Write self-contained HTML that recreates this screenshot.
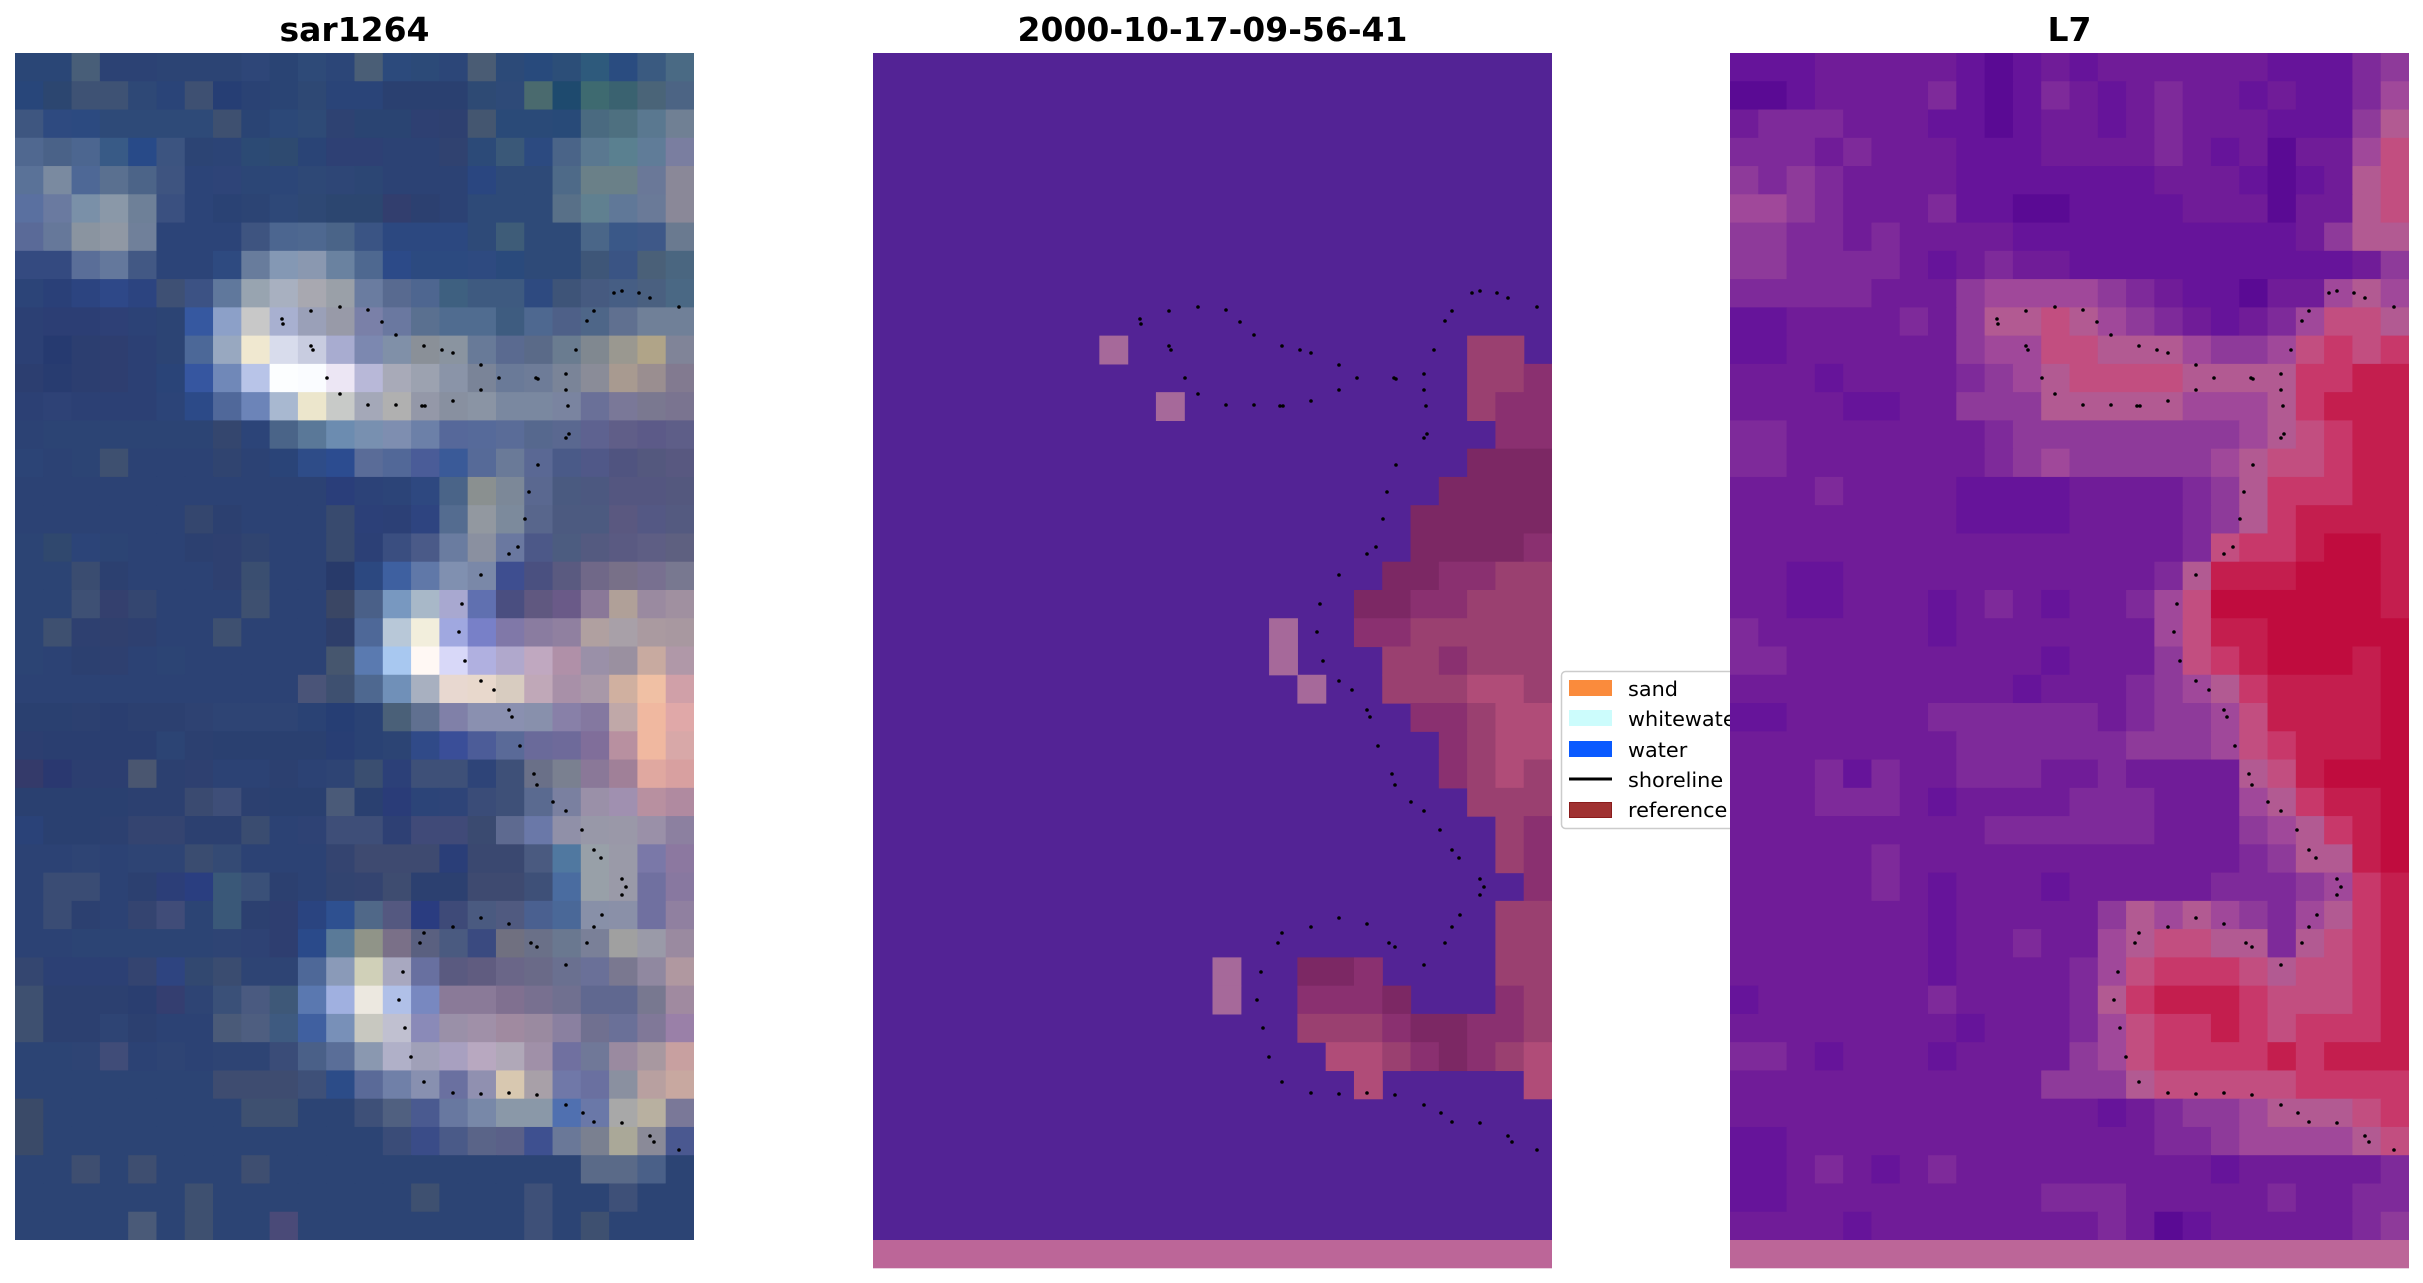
<!DOCTYPE html>
<html><head><meta charset="utf-8">
<style>
html,body{margin:0;padding:0;background:#fff;}
svg{display:block;}
text{font-family:"DejaVu Sans","Liberation Sans",sans-serif;}
</style></head><body>
<svg id="s" xmlns="http://www.w3.org/2000/svg" width="2423" height="1283" viewBox="0 0 2423 1283">
<rect width="2423" height="1283" fill="#ffffff"/>
<text x="354.5" y="41" font-size="33" font-weight="bold" text-anchor="middle" fill="#000">sar1264</text>
<text x="1212.5" y="41" font-size="33" font-weight="bold" text-anchor="middle" fill="#000">2000-10-17-09-56-41</text>
<text x="2069.5" y="41" font-size="33" font-weight="bold" text-anchor="middle" fill="#000">L7</text>

<g id="legend">
<rect x="1561.5" y="671.5" width="330" height="157" rx="4" fill="#ffffff" stroke="#cccccc" stroke-width="1.5"/>
<rect x="1569" y="680" width="43" height="16" fill="#fa8b3c"/>
<rect x="1569" y="710" width="43" height="16" fill="#ccfcfc"/>
<rect x="1569" y="741" width="43" height="16" fill="#0a5aff"/>
<line x1="1569" y1="779" x2="1612" y2="779" stroke="#000" stroke-width="3"/>
<rect x="1569.5" y="802.5" width="42" height="15" fill="#a03232" stroke="#8a1c1c" stroke-width="1"/>
<text x="1628" y="696" font-size="20.8" fill="#000">sand</text>
<text x="1628" y="726" font-size="20.8" fill="#000">whitewater</text>
<text x="1628" y="757" font-size="20.8" fill="#000">water</text>
<text x="1628" y="787" font-size="20.8" fill="#000">shoreline</text>
<text x="1628" y="817" font-size="20.8" fill="#000">reference</text>
</g>

<rect x="15" y="53" width="679" height="1187" fill="#2c4474"/>
<g id="L"></g>

<rect x="873" y="53" width="679" height="1187" fill="#532395"/>
<rect x="873" y="1240" width="679" height="28.3" fill="#bc6698"/>
<g id="M"></g>

<rect x="1730" y="53" width="679" height="1187" fill="#701c98"/>
<rect x="1730" y="1240" width="679" height="28.3" fill="#bc6698"/>
<g id="R"></g>

<g id="D"></g>
</svg>
<script>
(function(){
var NS="http://www.w3.org/2000/svg";
var CW=679/24, CH=1187/42;
function mk(g,x,y,w,h,f){
  var el=document.createElementNS(NS,'rect');
  el.setAttribute('x',x.toFixed(2));
  el.setAttribute('y',y.toFixed(2));
  el.setAttribute('width',w.toFixed(2));
  el.setAttribute('height',h.toFixed(2));
  el.setAttribute('fill',f);
  g.appendChild(el);
}
function grid(id,x0,y0,rows,pal){
  var g=document.getElementById(id);
  for(var r=0;r<rows.length;r++){
    var s=rows[r], c=0;
    while(c<s.length){
      var k=s.charAt(c), e=c;
      while(e+1<s.length && s.charAt(e+1)==k) e++;
      if(pal[k]){
        var w=(e-c+1)*CW+(e==s.length-1?0:0.6);
        var h=CH+(r==41?0:0.6);
        mk(g,x0+c*CW,y0+r*CH,w,h,pal[k]);
      }
      c=e+1;
    }
  }
}
function hexgrid(id,x0,y0,rows){
  var g=document.getElementById(id);
  for(var r=0;r<rows.length;r++){
    var a=rows[r].split(' ');
    for(var c=0;c<a.length;c++){
      var w=CW+(c==a.length-1?0:0.6);
      var h=CH+(r==rows.length-1?0:0.6);
      mk(g,x0+c*CW,y0+r*CH,w,h,'#'+a[c]);
    }
  }
}
var LH=[
"2a4676 2a4676 485e78 2c4274 2c4274 2c4474 2c4474 2c4474 2e4678 2a4474 2e4a78 2c4678 4a5e76 2c4a7c 2c4a78 2c4678 4a5c74 2c4a78 284a7c 2c4e78 2e5a7c 2a4c80 3a5a80 4a6a84",
"28467a 2c4670 3e5274 3e5274 2e4876 2a4478 3e5072 263e74 2a4274 2a4474 2e4874 2a4478 2a4478 2a4070 2a4070 2a4070 2e4a74 2e4a78 4a6a6e 1e4a6e 3e6a70 3a6270 4a6478 4c6484",
"3e5680 2e4a80 2c4a80 2e4a78 2e4a78 2e4a78 2e4a78 3e5070 2a4474 2c4878 2e4a76 2e4272 2a4472 2a4472 2e4072 2e4070 445670 2a4a78 2a4a78 284a78 4a6a80 4e7080 5a7890 708094",
"506890 4a6288 4c6690 385a86 284a88 3c5480 2c4474 2c4476 2c4a74 2e4a70 2a4476 2e4074 2e4074 2c4274 2c4274 304270 2c4a78 3a5878 2c4a80 4a6488 5a7890 5a8090 607c98 7a7ea0",
"5a7298 7a8aa0 4e6896 5a7090 4c6488 3e5480 2c4478 2e4478 2c4676 2c4678 2e4876 2e4676 2c4674 2c4274 2c4274 2c4274 2a4680 2e4a78 2e4a78 4e6a88 6a8088 6a8088 6a7898 8a8898",
"5a70a0 6a7aa0 7a90a8 8a98a8 6e8098 3a5080 2c4478 2a4274 2c4474 2e4878 2e4874 2c4670 2c4670 323e6e 2c4070 2c4274 2e4a78 2e4a78 2e4a78 587088 608090 607898 6a7a98 8a8898",
"5a6a98 66789a 8a94a0 9098a4 70809a 2c4478 2c4478 2c4478 3e5480 4c6690 4e6890 4a6488 3a5484 2c4880 2c4880 2c4880 2e4a78 3e5c78 2e4a78 2e4a78 4a6688 3a5888 3e5888 6a7a90",
"344a80 344a80 5a6e98 64789c 425884 2c4478 2c4478 2e4a80 687c9c 8498b4 8a98b0 6a82a0 4e6890 2c4a88 2c4a80 2c4a80 2e4a80 2a4a7c 2e4a78 2e4a78 3e5678 3a5484 4a6078 4a6680",
"2c4478 2a4078 2c4480 2e4888 2c4480 3e5074 3c5284 60789c 98a4b0 a8b0c0 a8a8b0 9aa0a8 6a7ca0 586a90 4e6690 3e6080 3e5a80 3e5a80 2e4a80 3e5478 465a80 465e84 4a6080 4a6884",
"2c4074 2c3e74 2c3e74 2e4076 2c4276 2c4474 3658a0 8ca0c8 c8c8c8 a8b0d0 9aa0b8 989aa8 7a80a8 6a78a0 5a7090 506c90 506c90 3e5c80 4e6890 4e6088 4e6688 607090 708098 708098",
"2c4074 263a70 2c3e70 2e3e70 2c4074 2c4474 4c6898 98a8c0 f0e8d0 d8dcec c8cce0 a8acd0 7c88b0 8090a8 8a9098 8a94a0 687a98 5a6a90 5a6a88 6a7c90 808890 9a9890 b0a488 808498",
"2c3e70 283c70 2c3e70 2e3e70 2c4074 2a4478 3656a0 7088b8 b8c4e8 fcfeff fafcff ece6f4 b8b8d8 a8aab8 9ca2b0 8a94a8 7a8498 6a7a98 6e7c98 7a8498 8a8c98 a89a90 9a8e90 827a90",
"2c4074 2e4276 2c4074 2c4074 2c4074 2c4478 2c4a88 50689a 6c84b8 a8b8d0 ece6cc c8cac8 a4a8b8 b0b0b0 9498a8 8890a0 8a94a4 7a88a0 7a88a0 7a84a0 6a7098 7a7898 7a7890 7a7490",
"2c4274 2c4474 2c4474 2c4474 2c4474 2c4474 2c4474 34466e 2c4478 4a6488 5a7898 6c8cb0 7890b0 7e8eb0 6c80a8 56689a 566a9a 5a6c98 56688e 5a6890 5e6290 605e88 5c5a88 5e5e88",
"2c4476 2c4274 2c4474 3e5070 2c4274 2c4274 2c4274 304470 2c4274 2a4478 2e4c88 2c4c90 5a6c98 526898 4a5c98 3a5a98 566a98 6a7a98 5a6894 4a5a88 505888 505480 54587e 585880",
"2c4274 2c4274 2c4274 2c4274 2c4274 2c4274 2c4274 2c4274 2c4274 2c4274 2c4274 2a3e7a 2c4278 2c4478 2e4880 4a6488 8a9090 7c8898 5a6890 4a5a80 4c5880 545680 545680 54587e",
"2c4274 2c4274 2c4274 2c4274 2c4274 2c4274 34466e 2c4070 2c4274 2c4274 2c4274 384a6e 2c4078 2c4076 2e4480 546c90 9298a0 7c8a9c 58668c 4c5a80 4c5a80 5a5880 545884 545a80",
"2c4474 30486e 2c4478 2c4474 2c4274 2c4274 2c4070 2e4070 304470 2c4274 2c4274 384a6e 2c4076 3a4e80 4a5a88 6a7ca0 8a90a0 6a78a0 4c5888 4c5c80 545a80 5a5a82 5e5e84 5e6080",
"2c4474 2c4474 3a4c70 2c4070 2c4274 2c4274 2c4274 2e4070 3a4e70 2c4274 2c4274 283a6a 2c4880 3e60a0 6078a8 8090b0 7a88a8 3e4e90 4a5080 5a5a80 706888 787088 787090 787890",
"2c4474 2c4474 3e5074 34406e 344670 2c4274 2c4274 2c4274 3e5070 2c4274 2c4274 3a4664 4a6088 7898c0 a8b8c8 a8a8d0 6070b0 4a4e80 605880 6a5a88 8a7898 b0a098 9a8aa0 a090a0",
"2c4474 3e5070 2e4070 30406e 2e4070 2c4274 2c4274 3e5070 2c4274 2c4274 2c4274 2e3e6a 4e6898 b8c8d8 f2eedc a0a8e0 7880c8 8078a8 8a7ca0 9080a0 b0a0a0 a8a0a8 aa9aa0 a898a0",
"2c4474 2c4274 2c4070 2e4070 2c4274 2c4474 2c4274 2c4274 2c4274 2c4274 2c4274 46566e 5a7ab0 a8c8f0 fff8f4 d8d8f8 b0b0e0 b0a8cc c0a8c0 b090a8 9a90a8 9a90a0 c8aaa0 b098a8",
"2c4274 2c4274 2c4274 2c4274 2c4274 2c4274 2c4274 2c4274 2c4274 2c4274 4a5478 3e5070 4e6890 7090b8 a8b0c0 e8d8d0 e8d8cc d8ccc0 c0a8b8 a890a8 a898a8 d0b0a0 f0c0a4 d0a0a8",
"2a4070 2a4070 2c4070 2a3e70 2c4070 2c4070 2e4272 2e4474 2e4474 2e4474 2a4274 263e74 2a4274 4a6078 607090 8080a8 8a90b0 8a90b0 8890ac 8880a8 8478a0 c0a8a8 f0b8a0 e0a8a8",
"2c3e70 2a3e70 2a3e70 2a3e70 2a3e70 2c4474 2c4070 2a4070 2a4070 2a4070 2a4070 283e74 2a4274 2c4474 304a88 3a4e98 4c5c98 5a6a98 6a6a9a 6e6a9a 806e9a b890a0 f0b8a0 d8a8a8",
"343a6a 2a3870 2c3e70 2c3e70 4a5670 2c4070 2e4070 2c4274 2c4274 2c4070 2c4274 2e4474 3a4e70 2c4078 3e5078 3e5078 2e4478 3e5078 6a7088 7a8090 8a7898 a08098 e0a8a0 d8a0a0",
"2a4070 2a4070 2a4070 2a4070 2c4070 2c4070 3a4a70 3e4e78 2c4070 2a4070 2a4070 4a5a78 2a4070 2a3c78 2c4478 2e4478 3a4c78 3e5078 5a6a90 7a80a0 9a90a8 a090b0 b890a0 b08aa0",
"2a4278 2a4070 2a4070 2c4070 344470 344470 2c4070 2c4070 3a4c70 2c4274 2e4274 3e4e78 3e4e78 2e4074 404a78 404a78 3a4a70 5e6a90 6a78a8 9090a8 9898a8 9a98a8 9a90a8 8c80a0",
"2c4274 2c4274 2e4474 2c4274 2e4474 2e4474 3a4c70 344a74 2c4274 2c4274 2c4274 344470 3e4a70 3e4a70 3e4a70 2a3e78 3a4870 3a4870 4a5a80 5078a0 98a0a8 9a9aa8 7a78a8 8c78a0",
"2c4274 3a4c74 3a4c74 2c4274 2c4070 2c3e78 2a3e80 3a5878 3a5078 2c4070 2c4274 324470 344470 3e4c70 2c4070 2c4070 3e4a70 3e4a70 3e5078 4a6ca0 98a0a8 9a9aa8 7070a0 8878a0",
"2c4274 3a4c74 2c4070 2c4274 344470 404c78 2c4474 3a5878 2c4070 2e3e70 2a4480 2e5090 506888 545880 2a3c80 3e4a78 4a5a80 505a80 4a6090 4a6898 8890a8 8a90a8 7070a0 9080a0",
"2c4274 2c4274 2c4474 2c4474 2c4474 2c4474 2c4474 2e4474 2e4274 2e3e70 2a4a8a 5a7a98 909488 7a7088 5a6080 4a5a80 3a4a80 707080 6a7088 6a7890 7a8098 a0a0a0 9a9aa8 9a8aa0",
"344670 2c4074 2c4074 2c4074 344470 2e4480 324870 3a4c70 2e4474 2e4474 4e6898 8a9ab8 d0d0b8 a8a8c0 6870a0 5a5a80 605c80 6a6688 6a6a88 6a7090 6a7098 7a7890 9088a0 b098a0",
"3e5070 2c4070 2c4070 2c4070 2a3e70 343e70 2e4474 3a5078 4a5a80 3e5878 5a78b0 a0b0e0 ece8e0 b0c0e8 7888c0 8a7a98 8a7a98 807090 787090 707090 606890 606890 787890 a08aa0",
"3e5070 2c4070 2c4070 2e4474 2c4070 2c4274 2c4274 4a5a78 4e5e80 3e5a80 4060a0 7890b8 c8c8c0 c0c0d0 8a8ab8 9a90a8 a090a8 a08aa0 9a8aa0 8a80a0 707090 6a7098 807898 9a80a8",
"2c4474 2c4474 2e4474 404c78 2c4274 2e4474 2c4274 2e4474 2e4474 3a4c78 4a6088 5a6e98 8a98b0 b0b0c8 a0a0b8 a8a0c0 b8a8c0 b0a8b8 a090a8 7070a0 707898 9a8aa0 a898a0 c8a0a0",
"2c4474 2c4474 2c4474 2c4474 2c4474 2c4474 2c4474 3e4c70 3e4c70 3e4c70 3e5078 2c4c88 5a6a98 7080a8 8890b0 6a70a0 9090b0 d8c8b0 a8a0a8 7078a8 6a70a0 8a90a0 b8a0a0 c8a8a0",
"3a4a68 2c4474 2c4474 2c4474 2c4474 2c4474 2c4474 2c4474 3e5070 3e5070 2c4474 2c4474 3e5078 506080 4a5a90 6878a0 7888a8 8a98a8 8a98a8 5070b0 6a78a8 a8a8a8 b8b0a0 7a7898",
"3a4a68 2c4474 2c4474 2c4474 2c4474 2c4474 2c4474 2c4474 2c4474 2c4474 2c4474 2c4474 2c4474 3a4c78 3a4c88 4a5a88 5a6488 5a6088 3e5090 6a7898 7a8090 aaa898 8a8a98 4a5890",
"2c4474 2c4474 3e4e70 2c4474 3e4e70 2c4474 2c4474 2c4474 3e4e70 2c4474 2c4474 2c4474 2c4474 2c4474 2c4474 2c4474 2c4474 2c4474 2c4474 2c4474 5a6a88 5a6a88 4a6088 2c4474",
"2c4474 2c4474 2c4474 2c4474 2c4474 2c4474 3e5070 2c4474 2c4474 2c4474 2c4474 2c4474 2c4474 2c4474 3e5070 2c4474 2c4474 2c4474 3e5078 2c4474 2c4474 3e5078 2c4474 2c4474",
"2c4474 2c4474 2c4474 2c4474 4a5a78 2c4474 3e5070 2c4474 2c4474 4a4a78 2c4474 2c4474 2c4474 2c4474 2c4474 2c4474 2c4474 2c4474 3e5078 2c4474 3e5070 2c4474 2c4474 2c4474"];
var RP={a:'#5a0a94',b:'#66149a',c:'#701c98',d:'#7e2a9a',e:'#8e3a9a',f:'#a0489a',g:'#b25a92',h:'#c24e80',i:'#c8386a',j:'#c41e4e',k:'#c00c3e'};
var RR=[
"bbbcccccbabcbccccccbbbde",
"aabccccdbabdcbcdccbcbbdf",
"cdddcccbbabccbcdcccbbbeg",
"dddcdcccbbbccccdcbcaccfh",
"ededccccbbbbbbbcccbabcgh",
"ffedcccdbbaabbbbcccaccgh",
"eeddcdccccbbbbbbbbbbcegg",
"eeddddcbcdccbbbbbbbbbbce",
"dddddccceffffedcbbaccfgf",
"bbccccdcegghgfedcbcdfhhg",
"bbcccccceffhhgggfeefhihi",
"cccbccccdefghhhhggggiijj",
"ccccbbcceeegggggfffgijjj",
"ddcccccccdeeeeeeeefghijj",
"ddcccccccdefeeeeefghhijj",
"cccdccccbbbbccccdegiiijj",
"ccccccccbbbbccccdegijjjj",
"ccccccccccccccccdhiijkkj",
"ccbbcccccccccccdgjjjkkkj",
"ccbbcccbcdcbccdfhkkkkkkj",
"dccccccbcccccccfhjjkkkkk",
"ddcccccccccbcccehijkkkjk",
"ccccccccccbcccdefgijjjjk",
"bbcccccddddddcdeefhjjjjk",
"ccccccccddddddeeefhijjjk",
"cccdbdccdddccdccccghjkkk",
"cccdddcbccccdddcccfgijjk",
"cccccccccddddddcccefgijk",
"cccccdccccccccccccdeggjk",
"cccccdcbcccbcccccdddefij",
"cccccccbcccccegfgfedfgij",
"cccccccbccdccfghhggdghij",
"cccccccbccccdfhiiihghhij",
"bccccccdccccdgijjjihhhij",
"ccccccccbcccdfhiijihiiij",
"ddcbcccbccccefhiiiijijjj",
"ccccccccccceeeghhhhhiiii",
"cccccccccccccbcdeefggghi",
"bbcccccccccccccddeffffgh",
"bbcdcbcdcccccccccbcccccd",
"bbcccccccccdddcccccdccdd",
"ccccbccccccccdcabcccccde"];
var MP={L:'#a6699a',p:'#9a4070',q:'#8a3070',r:'#7c2864',s:'#b04c78'};
var MR=[
"........................",
"........................",
"........................",
"........................",
"........................",
"........................",
"........................",
"........................",
"........................",
"........................",
"........L............pp.",
".....................ppq",
"..........L..........pqq",
"......................qq",
".....................rrr",
"....................rrrr",
"...................rrrrr",
"...................rrrrq",
"..................rrqqpp",
".................rrqqppp",
"..............L..qqppppp",
"..............L...ppqppp",
"...............L..pppssp",
"...................qqpss",
"....................qpss",
"....................qpsp",
".....................ppp",
"......................pq",
"......................pq",
".......................q",
"......................pp",
"......................pp",
"............L..rrq....pp",
"............L..qqqr...qp",
"...............pppqrrqqp",
"................sspqrqps",
".................s.....s"];
hexgrid('L',15,53,LH);
grid('M',873,53,MR,MP);
grid('R',1730,53,RR,RP);
var P=[[267,266],[268,271],[296,258],[325,254],[353,257],[367,269],[381,282],[296,293],[298,297],[409,293],[427,297],[438,300],[466,312],[312,325],[484,325],[521,325],[523,326],[325,341],[353,352],[381,352],[407,353],[410,353],[438,348],[466,337],[551,321],[551,337],[553,353],[554,381],[551,385],[523,412],[514,439],[510,466],[503,494],[494,501],[466,522],[447,551],[444,579],[561,297],[572,268],[579,258],[599,240],[607,238],[624,240],[635,245],[664,254],
[450,608],[466,628],[479,637],[494,657],[497,664],[505,693],[519,721],[522,732],[538,749],[551,758],[567,777],[579,797],[586,805],[607,826],[611,834],[607,842],[587,862],[579,874],[572,890],[551,912],[516,890],[522,894],[494,871],[466,865],[438,874],[409,880],[405,890],[388,919],[384,947],[390,975],[396,1004],[409,1029],[438,1040],[466,1041],[494,1040],[522,1042],[551,1052],[568,1060],[579,1069],[607,1070],[635,1083],[639,1089],[664,1097]];
var D=document.getElementById('D');
var OX=[15,873,1730];
for(var o=0;o<OX.length;o++){
  for(var i=0;i<P.length;i++){
    var c=document.createElementNS(NS,'circle');
    c.setAttribute('cx',OX[o]+P[i][0]);
    c.setAttribute('cy',53+P[i][1]);
    c.setAttribute('r','1.8');
    c.setAttribute('fill','#000');
    D.appendChild(c);
  }
}
})();
</script>
</body></html>
